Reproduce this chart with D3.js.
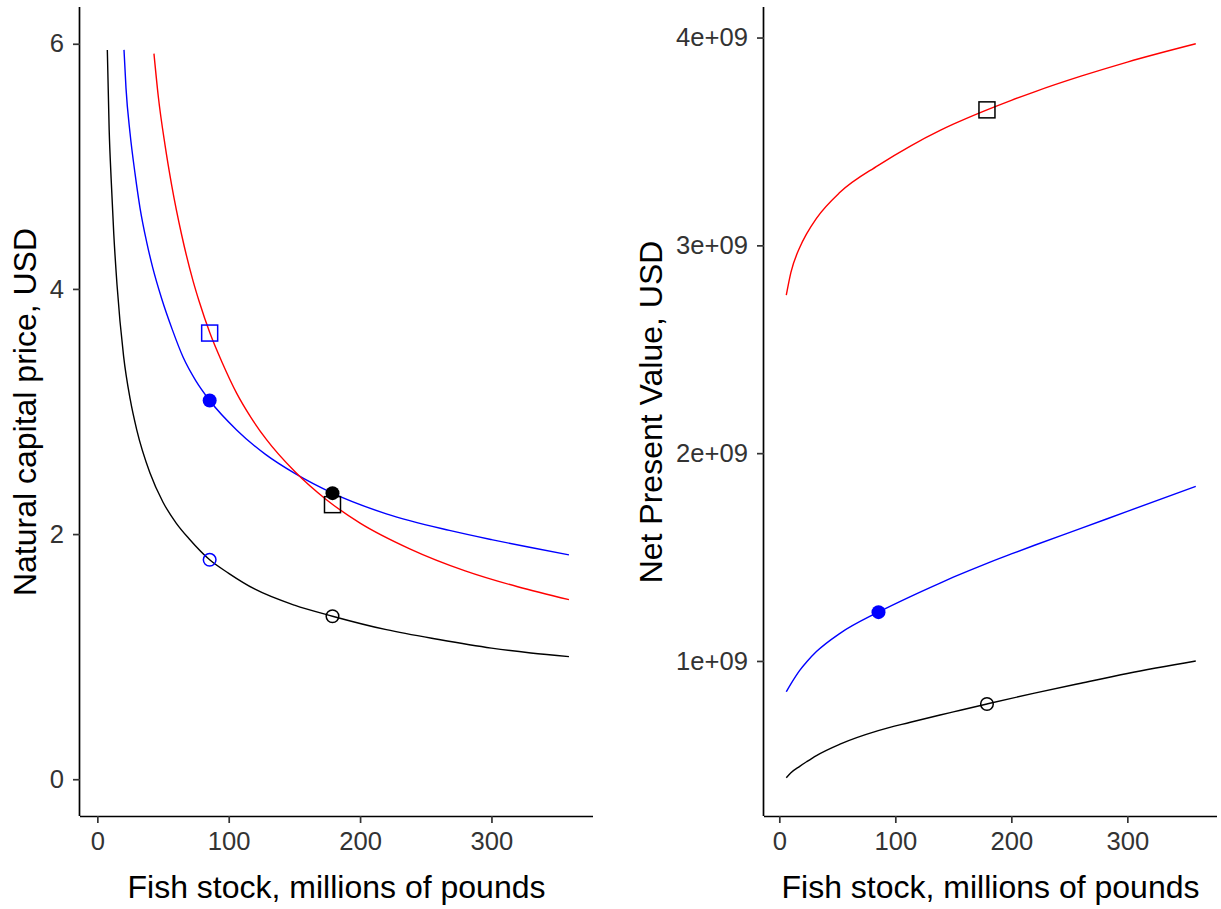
<!DOCTYPE html>
<html lang="en">
  <head>
    <meta charset="utf-8">
    <script src="https://d3js.org/d3.v7.min.js"></script>
    <title>Natural capital price and NPV</title>
    <style>
      body { margin: 0; background: #fff; }
      text { font-family: "Liberation Sans", Arial, sans-serif; }
    </style>
  </head>
  <body>
  <script type="text/javascript">

    // ---- data ----
    // left panel: natural capital price, USD
    var priceBlackX = [7.6, 9, 10.5, 12.5, 15, 20, 25, 30, 40, 50, 60, 70, 85.5, 100, 120, 150, 179, 220, 260, 300, 330, 359];
    var priceBlackY = [5.95, 5.30, 4.90, 4.45, 4.03, 3.45, 3.10, 2.85, 2.50, 2.26, 2.09, 1.96, 1.79, 1.68, 1.55, 1.42, 1.33, 1.22, 1.14, 1.07, 1.03, 1.0];

    var priceBlueX = [20.3, 21.8, 24.9, 28.7, 32.5, 37.6, 42, 49, 57, 65.4, 75, 85.5, 106, 128, 150.3, 179, 220, 268, 300, 330, 359];
    var priceBlueY = [5.95, 5.64, 5.27, 4.94, 4.66, 4.38, 4.18, 3.92, 3.67, 3.44, 3.25, 3.09, 2.85, 2.65, 2.495, 2.334, 2.165, 2.03, 1.955, 1.89, 1.83];

    var priceRedX = [43.1, 46.4, 51.5, 56.6, 64.2, 73, 77.6, 85.7, 95, 106, 117, 128.8, 150.3, 174.4, 200, 237.8, 280, 320, 359];
    var priceRedY = [5.92, 5.57, 5.175, 4.845, 4.44, 4.06, 3.895, 3.64, 3.40, 3.15, 2.95, 2.77, 2.51, 2.28, 2.09, 1.88, 1.70, 1.57, 1.465];

    // right panel: net present value, USD
    var npvX = [6, 10, 17.6, 23.5, 32, 52.3, 85.3, 113, 138.6, 150, 179, 200, 220, 260, 300, 359];
    var npvRed = [2.76e9, 2.87e9, 2.99e9, 3.055e9, 3.13e9, 3.255e9, 3.385e9, 3.478e9, 3.553e9, 3.583e9, 3.652e9, 3.698e9, 3.739e9, 3.814e9, 3.882e9, 3.97e9];
    var npvBlue = [0.852e9, 0.89e9, 0.955e9, 0.995e9, 1.045e9, 1.133e9, 1.235e9, 1.31e9, 1.375e9, 1.403e9, 1.47e9, 1.515e9, 1.557e9, 1.638e9, 1.72e9, 1.84e9];
    var npvBlack = [0.438e9, 0.462e9, 0.493e9, 0.515e9, 0.545e9, 0.60e9, 0.665e9, 0.705e9, 0.74e9, 0.755e9, 0.793e9, 0.82e9, 0.845e9, 0.893e9, 0.94e9, 1.0e9];

    // highlighted points: [x, y, colour, shape]
    var pricePoints = [
      [85.5, 3.64, "blue", "openSquare"],
      [85.5, 3.09, "blue", "filledCircle"],
      [85.5, 1.79, "blue", "openCircle"],
      [179, 2.334, "black", "filledCircle"],
      [179, 2.24, "black", "openSquare"],
      [179, 1.33, "black", "openCircle"]
    ];
    var npvPoints = [
      [179, 3.652e9, "black", "openSquare"],
      [85.5, 1.235e9, "blue", "filledCircle"],
      [179, 0.793e9, "black", "openCircle"]
    ];

    var xTicks = [0, 100, 200, 300];
    var priceTicks = [0, 2, 4, 6];
    var npvTicks = [1e9, 2e9, 3e9, 4e9];

    var xTitle = "Fish stock, millions of pounds";

    // ---- setup ----
    var width = 1221, height = 909;
    var svg = d3.select("body").append("svg")
      .attr("width", width)
      .attr("height", height);

    function zip(xs, ys) {
      return xs.map(function(x, i) { return [x, ys[i]]; });
    }

    function drawPanel(opts) {
      var x = d3.scaleLinear().domain([-13.2, 377.3]).range([opts.left, opts.right]);
      var y = d3.scaleLinear().domain(opts.yDomain).range([816, 7]);
      var g = svg.append("g");

      var line = d3.line()
        .x(function(d) { return x(d[0]); })
        .y(function(d) { return y(d[1]); })
        .curve(d3.curveMonotoneX);

      opts.series.forEach(function(s) {
        g.append("path")
          .datum(s.data)
          .attr("d", line)
          .attr("fill", "none")
          .attr("stroke", s.color)
          .attr("stroke-width", 1.4);
      });

      // points
      opts.points.forEach(function(p) {
        var px = x(p[0]), py = y(p[1]);
        if (p[3] == "openSquare") {
          g.append("rect")
            .attr("x", px - 8).attr("y", py - 8)
            .attr("width", 16).attr("height", 16)
            .attr("fill", "none")
            .attr("stroke", p[2])
            .attr("stroke-width", 1.5);
        } else if (p[3] == "openCircle") {
          g.append("circle")
            .attr("cx", px).attr("cy", py).attr("r", 6.3)
            .attr("fill", "none")
            .attr("stroke", p[2])
            .attr("stroke-width", 1.5);
        } else {
          g.append("circle")
            .attr("cx", px).attr("cy", py).attr("r", 7)
            .attr("fill", p[2]);
        }
      });

      // axes
      var xAxis = g.append("g")
        .attr("transform", "translate(0,816)")
        .call(d3.axisBottom(x).tickValues(xTicks).tickSize(7).tickPadding(9).tickFormat(d3.format("d")));
      var yAxis = g.append("g")
        .attr("transform", "translate(" + opts.left + ",0)")
        .call(d3.axisLeft(y).tickValues(opts.yTicks).tickSize(7).tickPadding(9).tickFormat(opts.yFormat));

      [xAxis, yAxis].forEach(function(a) {
        a.select(".domain").attr("stroke", "#000").attr("stroke-width", 1.7);
        a.selectAll(".tick line").attr("stroke", "#333").attr("stroke-width", 1.7);
        a.selectAll(".tick text")
          .attr("fill", "#333")
          .style("font-size", "25.6px")
          .style("font-family", "'Liberation Sans', Arial, sans-serif");
      });
      // full-length axis lines like ggplot
      xAxis.select(".domain").attr("d", "M" + opts.left + ",0.5H" + opts.right);
      yAxis.select(".domain").attr("d", "M-0.5,816V7");

      g.append("text")
        .attr("x", (opts.left + opts.right) / 2)
        .attr("y", 898)
        .attr("text-anchor", "middle")
        .style("font-size", "32px")
        .attr("fill", "#000")
        .text(xTitle);

      g.append("text")
        .attr("transform", "translate(" + opts.titleX + ",412) rotate(-90)")
        .attr("text-anchor", "middle")
        .style("font-size", "32px")
        .attr("fill", "#000")
        .text(opts.yTitle);
    }

    drawPanel({
      left: 80, right: 593,
      yDomain: [-0.3, 6.3],
      yTicks: priceTicks,
      yFormat: d3.format("d"),
      yTitle: "Natural capital price, USD",
      titleX: 36,
      series: [
        { data: zip(priceBlackX, priceBlackY), color: "black" },
        { data: zip(priceBlueX, priceBlueY), color: "blue" },
        { data: zip(priceRedX, priceRedY), color: "red" }
      ],
      points: pricePoints
    });

    drawPanel({
      left: 764, right: 1217,
      yDomain: [0.254e9, 4.147e9],
      yTicks: npvTicks,
      yFormat: function(d) { return (d / 1e9) + "e+09"; },
      yTitle: "Net Present Value, USD",
      titleX: 662,
      series: [
        { data: zip(npvX, npvBlack), color: "black" },
        { data: zip(npvX, npvBlue), color: "blue" },
        { data: zip(npvX, npvRed), color: "red" }
      ],
      points: npvPoints
    });

  </script>
  </body>
</html>
